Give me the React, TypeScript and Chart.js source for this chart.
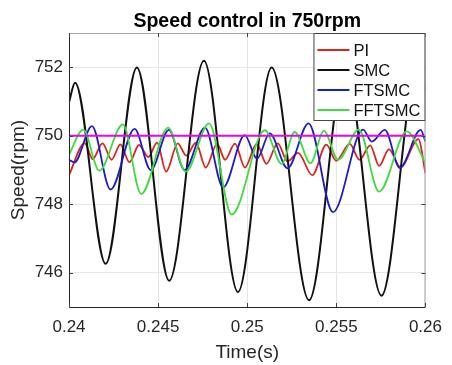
import React, { useEffect, useRef } from "react";
import { Chart, registerables } from "chart.js";

Chart.register(...registerables);

const chartTitle = "Speed control in 750rpm";
const xAxisLabel = "Time(s)";
const yAxisLabel = "Speed(rpm)";
const xTickValues = [0.24, 0.245, 0.25, 0.255, 0.26];
const yTickValues = [746, 748, 750, 752];
const seriesNames = ["PI", "SMC", "FTSMC", "FFTSMC"];
const seriesColors = ["#e0221f", "#111111", "#1c1cc8", "#3fdc3f"];
const refColor = "#f000f0";

const piTime = [0.24, 0.24088, 0.24133, 0.24188, 0.24239, 0.24288, 0.24339, 0.24393, 0.24445, 0.24494, 0.24545, 0.2461, 0.24658, 0.24712, 0.24767, 0.24831, 0.24876, 0.24931, 0.24987, 0.25053, 0.25108, 0.25171, 0.25226, 0.25285, 0.25365, 0.25444, 0.25499, 0.25575, 0.2563, 0.2569, 0.2574, 0.25795, 0.2586, 0.2596, 0.26];
const piSpeed = [748.85, 749.78, 749.32, 749.78, 749.3, 749.75, 749.23, 749.73, 749.38, 749.8, 748.95, 749.78, 749.42, 749.8, 749.07, 749.76, 749.3, 749.77, 749.07, 749.76, 749.18, 749.78, 749.25, 749.5, 748.85, 749.74, 749.27, 749.76, 749.3, 749.72, 749.12, 749.6, 749.08, 749.9, 748.9];

const smcTime = [0.24, 0.24034, 0.24206, 0.24381, 0.24562, 0.24757, 0.24948, 0.25137, 0.25347, 0.2555, 0.25753, 0.25955, 0.26];
const smcSpeed = [750.98, 751.55, 746.26, 751.99, 745.77, 752.19, 745.44, 751.99, 745.2, 752.05, 745.33, 752.0, 751.35];

const ftsmcTime = [0.24, 0.2403, 0.24129, 0.24233, 0.24368, 0.24459, 0.2456, 0.24649, 0.24763, 0.24865, 0.24986, 0.25055, 0.25126, 0.25226, 0.25344, 0.25481, 0.2565, 0.25699, 0.25772, 0.25856, 0.25973, 0.26];
const ftsmcSpeed = [749.3, 749.22, 750.28, 748.43, 750.2, 749.0, 750.17, 749.0, 750.24, 748.49, 750.02, 749.33, 750.07, 749.05, 750.36, 747.77, 750.18, 749.83, 750.17, 749.06, 750.17, 749.83];

const fftsmcTime = [0.24, 0.2408, 0.2417, 0.24302, 0.24405, 0.24556, 0.24655, 0.24786, 0.24913, 0.25099, 0.25193, 0.25266, 0.25355, 0.2543, 0.2551, 0.25626, 0.2574, 0.25895, 0.26];
const fftsmcSpeed = [749.45, 750.18, 748.98, 750.33, 748.3, 750.24, 748.95, 750.36, 747.7, 750.16, 749.18, 750.11, 749.2, 750.14, 749.3, 750.18, 748.37, 750.13, 749.2];

const refTime = [0.24, 0.26];
const refSpeed = [750, 750];

const FONT = '"Liberation Sans", Arial, Helvetica, sans-serif';

const toPoints = (xs: number[], ys: number[]) => xs.map((x, i) => ({ x, y: ys[i] }));

const decorPlugin = {
  id: "decor",
  afterDatasetsDraw(chart: any) {
    const { ctx, chartArea: a } = chart;
    const xs = chart.scales.x;
    const ys = chart.scales.y;
    ctx.save();
    // frame
    ctx.lineWidth = 1;
    ctx.strokeStyle = "#a8a8a8";
    ctx.beginPath();
    ctx.moveTo(a.left, a.top + 0.5);
    ctx.lineTo(a.right - 0.5, a.top + 0.5);
    ctx.lineTo(a.right - 0.5, a.bottom);
    ctx.stroke();
    ctx.strokeStyle = "#262626";
    ctx.beginPath();
    ctx.moveTo(a.left + 0.5, a.top);
    ctx.lineTo(a.left + 0.5, a.bottom + 0.5);
    ctx.lineTo(a.right, a.bottom + 0.5);
    ctx.stroke();
    // inward tick marks
    ctx.strokeStyle = "#404040";
    ctx.beginPath();
    xTickValues.forEach((v) => {
      const px = Math.round(xs.getPixelForValue(v)) + 0.5;
      ctx.moveTo(px, a.bottom);
      ctx.lineTo(px, a.bottom - 4);
      ctx.moveTo(px, a.top);
      ctx.lineTo(px, a.top + 4);
    });
    yTickValues.forEach((v) => {
      const py = Math.round(ys.getPixelForValue(v)) + 0.5;
      ctx.moveTo(a.left, py);
      ctx.lineTo(a.left + 4, py);
      ctx.moveTo(a.right, py);
      ctx.lineTo(a.right - 4, py);
    });
    ctx.stroke();
    // legend box
    const bw = 112;
    const bh = 88;
    const bx = a.right - bw;
    const by = a.top;
    ctx.fillStyle = "#ffffff";
    ctx.fillRect(bx, by, bw, bh);
    ctx.strokeStyle = "#444444";
    ctx.strokeRect(bx + 0.5, by + 0.5, bw - 1, bh - 1);
    ctx.font = `16.5px ${FONT}`;
    ctx.textBaseline = "middle";
    ctx.textAlign = "left";
    seriesNames.forEach((name, i) => {
      const cy = by + 17 + i * 20;
      ctx.strokeStyle = seriesColors[i];
      ctx.lineWidth = 2;
      ctx.beginPath();
      ctx.moveTo(bx + 4, cy);
      ctx.lineTo(bx + 36, cy);
      ctx.stroke();
      ctx.fillStyle = "#111111";
      ctx.fillText(name, bx + 40, cy + 1);
    });
    ctx.restore();
  },
  afterDraw(chart: any) {
    const { ctx, chartArea: a } = chart;
    ctx.save();
    const cx = (a.left + a.right) / 2;
    ctx.fillStyle = "#000000";
    ctx.textAlign = "center";
    ctx.textBaseline = "alphabetic";
    ctx.font = `bold 19.5px ${FONT}`;
    ctx.fillText(chartTitle, cx, 27);
    ctx.fillStyle = "#262626";
    ctx.font = `19px ${FONT}`;
    ctx.fillText(xAxisLabel, cx, 358);
    ctx.translate(24, (a.top + a.bottom) / 2);
    ctx.rotate(-Math.PI / 2);
    ctx.fillText(yAxisLabel, 0, 0);
    ctx.restore();
  },
};

export default function App() {
  const canvasRef = useRef<HTMLCanvasElement | null>(null);

  useEffect(() => {
    document.body.style.margin = "0";
    const canvas = canvasRef.current;
    if (!canvas) return;
    const mk = (label: string, xs: number[], ys: number[], color: string, width: number, order: number) => ({
      label,
      data: toPoints(xs, ys),
      borderColor: color,
      backgroundColor: color,
      borderWidth: width,
      pointRadius: 0,
      fill: false,
      cubicInterpolationMode: "monotone" as const,
      order,
    });
    const chart = new Chart(canvas, {
      type: "line",
      data: {
        datasets: [
          mk(seriesNames[0], piTime, piSpeed, seriesColors[0], 1.8, 5),
          mk(seriesNames[1], smcTime, smcSpeed, seriesColors[1], 2, 4),
          mk(seriesNames[2], ftsmcTime, ftsmcSpeed, seriesColors[2], 1.8, 3),
          mk(seriesNames[3], fftsmcTime, fftsmcSpeed, seriesColors[3], 1.8, 2),
          mk("Reference", refTime, refSpeed, refColor, 2, 1),
        ],
      },
      options: {
        animation: false,
        responsive: false,
        layout: { padding: { top: 33, right: 17, left: 0, bottom: 0 } },
        plugins: {
          legend: { display: false },
          title: { display: false },
          tooltip: { enabled: false },
        },
        scales: {
          x: {
            type: "linear",
            min: 0.24,
            max: 0.26,
            afterBuildTicks: (s: any) => {
              s.ticks = xTickValues.map((v) => ({ value: v }));
            },
            afterFit: (s: any) => {
              s.height = 58;
            },
            ticks: {
              autoSkip: false,
              maxRotation: 0,
              padding: 10,
              color: "#262626",
              font: { family: FONT, size: 17 },
              callback: (v: any) => String(Number(Number(v).toFixed(3))),
            },
            grid: { color: "#e6e6e6", drawTicks: false, lineWidth: 1 },
            border: { display: false },
          },
          y: {
            type: "linear",
            min: 745,
            max: 753,
            afterBuildTicks: (s: any) => {
              s.ticks = yTickValues.map((v) => ({ value: v }));
            },
            afterFit: (s: any) => {
              s.width = 69;
            },
            ticks: {
              padding: 6,
              color: "#262626",
              font: { family: FONT, size: 17 },
              callback: (v: any) => String(v),
            },
            grid: { color: "#e6e6e6", drawTicks: false, lineWidth: 1 },
            border: { display: false },
          },
        },
      },
      plugins: [decorPlugin],
    });
    return () => chart.destroy();
  }, []);

  return <canvas ref={canvasRef} width={452} height={365} style={{ display: "block" }} />;
}
